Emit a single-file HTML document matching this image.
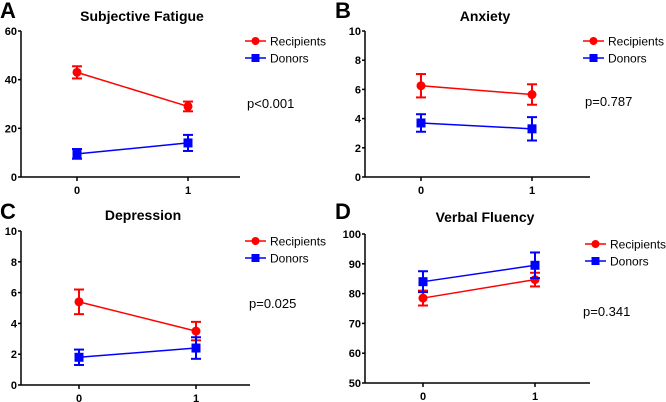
<!DOCTYPE html>
<html><head><meta charset="utf-8"><style>
html,body{margin:0;padding:0;background:#fff;}
svg{display:block;font-family:"Liberation Sans",Arial,sans-serif;}
</style></head><body>
<svg id="c" width="666" height="402" viewBox="0 0 666 402"></svg>
<script>
const xCats=[0,1];
const fatigueRec=[43,29], fatigueRecErr=[2.5,2];
const fatigueDon=[9.5,14], fatigueDonErr=[2,3.3];
const anxRec=[6.25,5.65], anxRecErr=[0.8,0.7];
const anxDon=[3.7,3.3], anxDonErr=[0.6,0.8];
const depRec=[5.4,3.5], depRecErr=[0.8,0.6];
const depDon=[1.8,2.4], depDonErr=[0.5,0.7];
const vfRec=[78.5,84.7], vfRecErr=[2.5,2.3];
const vfDon=[84,89.5], vfDonErr=[3.5,4.3];
const fatigueTicks=[0,20,40,60];
const anxTicks=[0,2,4,6,8,10];
const depTicks=[0,2,4,6,8,10];
const vfTicks=[50,60,70,80,90,100];

const svg=document.getElementById('c');
const NS='http://www.w3.org/2000/svg';
function el(t,a,p){const e=document.createElementNS(NS,t);for(const k in a)e.setAttribute(k,a[k]);(p||svg).appendChild(e);return e;}
function txt(s,a,p){const e=el('text',a,p);e.textContent=s;return e;}

function panel(o){
  const g=el('g',{});
  
  
  const ymin=o.ticks[0], ymax=o.ticks[o.ticks.length-1];
  const ys=v=>o.bot-(v-ymin)/(ymax-ymin)*(o.bot-o.top);
  const xs=i=>o.x0+(o.x1-o.x0)*xCats[i];
  const L=txt(o.letter,{x:o.lx,y:o.ly,'font-size':22,'font-weight':'bold',fill:'#000'},g);
  
  const T=txt(o.title,{x:o.tx,y:o.ty,'font-size':14,'font-weight':'bold','text-anchor':'middle',fill:'#000'},g);
  
  const ya=el('line',{x1:o.ax,y1:o.top,x2:o.ax,y2:o.bot,stroke:'#000','stroke-width':1.5},g);
  
  const xa=el('line',{x1:o.ax,y1:o.bot,x2:o.xend,y2:o.bot,stroke:'#000','stroke-width':1.5},g);
  
  o.ticks.forEach(t=>{
    const y=ys(t);
    el('line',{x1:o.ax-3,y1:y,x2:o.ax,y2:y,stroke:'#000','stroke-width':1.5},g);
    const tl=txt(t,{x:o.ax-4,y:y+4,'font-size':11,'font-weight':'bold','text-anchor':'end',fill:'#000'},g);
    
  });
  xCats.forEach((c,i)=>{
    const x=xs(i);
    el('line',{x1:x,y1:o.bot,x2:x,y2:o.bot+4,stroke:'#000','stroke-width':1.5},g);
    const tl=txt(c,{x:x,y:o.bot+17,'font-size':11,'font-weight':'bold','text-anchor':'middle',fill:'#000'},g);
    
  });
  const series=[{v:o.rec,e:o.recE,c:'#ff0000',sq:false,n:'recipients'},{v:o.don,e:o.donE,c:'#0000ff',sq:true,n:'donors'}];
  series.forEach(s=>{
    const sg=el('g',{},g);
    
    el('line',{x1:xs(0),y1:ys(s.v[0]),x2:xs(1),y2:ys(s.v[1]),stroke:s.c,'stroke-width':1.5},sg);
    s.v.forEach((v,i)=>{
      const x=xs(i),yh=ys(v+s.e[i]),yl=ys(v-s.e[i]);
      el('line',{x1:x,y1:yh,x2:x,y2:yl,stroke:s.c,'stroke-width':2},sg);
      el('line',{x1:x-5,y1:yh,x2:x+5,y2:yh,stroke:s.c,'stroke-width':2},sg);
      el('line',{x1:x-5,y1:yl,x2:x+5,y2:yl,stroke:s.c,'stroke-width':2},sg);
      const m=s.sq?el('rect',{x:x-4.5,y:ys(v)-4.5,width:9,height:9,fill:s.c},sg):el('circle',{cx:x,cy:ys(v),r:4.5,fill:s.c},sg);
      
    });
  });
  const lg=el('g',{},g);
  
  [['Recipients','#ff0000',false,o.ly1],['Donors','#0000ff',true,o.ly1+17]].forEach(r=>{
    el('line',{x1:o.legx,y1:r[3],x2:o.legx+21,y2:r[3],stroke:r[1],'stroke-width':1.5},lg);
    if(r[2])el('rect',{x:o.legx+6.5,y:r[3]-4,width:8,height:8,fill:r[1]},lg);
    else el('circle',{cx:o.legx+10.5,cy:r[3],r:4,fill:r[1]},lg);
    const t=txt(r[0],{x:o.legx+25,y:r[3]+4.5,'font-size':12,fill:'#000'},lg);
    
  });
  const p=txt(o.p,{x:o.px,y:o.py,'font-size':13,fill:'#000'},g);
  
}

panel({name:'panel-a-subjective-fatigue',letter:'A',lx:0,ly:18,title:'Subjective Fatigue',tx:142,ty:21,ax:21,top:31,bot:177,x0:77,x1:188,xend:240,ticks:fatigueTicks,rec:fatigueRec,recE:fatigueRecErr,don:fatigueDon,donE:fatigueDonErr,legx:245,ly1:41,p:'p<0.001',px:247,py:108});
panel({name:'panel-b-anxiety',letter:'B',lx:335,ly:18,title:'Anxiety',tx:485,ty:21,ax:365,top:31,bot:177,x0:421,x1:532,xend:590,ticks:anxTicks,rec:anxRec,recE:anxRecErr,don:anxDon,donE:anxDonErr,legx:583,ly1:41,p:'p=0.787',px:585,py:106});
panel({name:'panel-c-depression',letter:'C',lx:0,ly:219,title:'Depression',tx:143,ty:220,ax:21,top:231,bot:385,x0:79,x1:196,xend:250,ticks:depTicks,rec:depRec,recE:depRecErr,don:depDon,donE:depDonErr,legx:245,ly1:241,p:'p=0.025',px:249,py:308});
panel({name:'panel-d-verbal-fluency',letter:'D',lx:335,ly:219,title:'Verbal Fluency',tx:485,ty:222,ax:365,top:234,bot:383,x0:423,x1:535,xend:590,ticks:vfTicks,rec:vfRec,recE:vfRecErr,don:vfDon,donE:vfDonErr,legx:585,ly1:244,p:'p=0.341',px:583,py:316});
</script>
</body></html>
